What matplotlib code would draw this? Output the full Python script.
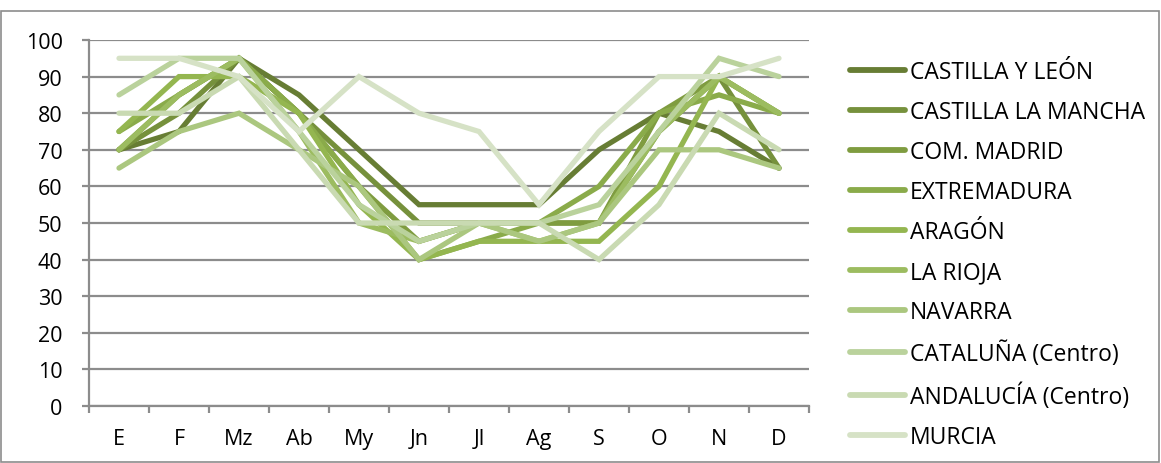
import matplotlib.pyplot as plt
from matplotlib.patches import Rectangle

meses = ['E', 'F', 'Mz', 'Ab', 'My', 'Jn', 'Jl', 'Ag', 'S', 'O', 'N', 'D']

regiones = ['CASTILLA Y LEÓN', 'CASTILLA LA MANCHA', 'COM. MADRID', 'EXTREMADURA',
            'ARAGÓN', 'LA RIOJA', 'NAVARRA', 'CATALUÑA (Centro)',
            'ANDALUCÍA (Centro)', 'MURCIA']

castilla_leon = [70, 75, 95, 85, 70, 55, 55, 55, 70, 80, 75, 65]
castilla_mancha = [70, 80, 95, 80, 65, 50, 50, 50, 50, 75, 90, 65]
madrid = [70, 85, 95, 80, 60, 45, 50, 50, 50, 80, 90, 80]
extremadura = [75, 85, 95, 80, 60, 40, 45, 50, 60, 80, 85, 80]
aragon = [75, 90, 90, 80, 55, 40, 45, 45, 45, 60, 90, 80]
rioja = [70, 85, 95, 75, 50, 45, 50, 45, 50, 75, 90, 80]
navarra = [65, 75, 80, 70, 60, 40, 50, 45, 50, 70, 70, 65]
cataluna = [85, 95, 95, 75, 55, 45, 50, 50, 55, 75, 95, 90]
andalucia = [80, 80, 90, 70, 50, 50, 50, 50, 40, 55, 80, 70]
murcia = [95, 95, 90, 75, 90, 80, 75, 55, 75, 90, 90, 95]

series = [castilla_leon, castilla_mancha, madrid, extremadura, aragon,
          rioja, navarra, cataluna, andalucia, murcia]

colores = ['#677d34', '#76913c', '#7f9c40', '#8aab4a', '#94b650',
           '#9cbc60', '#abc77f', '#bad29c', '#c9dab2', '#d6e2c6']

plt.rcParams['font.family'] = ['Open Sans', 'DejaVu Sans']

fig = plt.figure(figsize=(11.61, 4.64), dpi=100)
ax = fig.add_axes([89 / 1161, 57 / 464, 720 / 1161, 366 / 464])

x = list(range(len(meses)))
for nombre, valores, color in zip(regiones, series, colores):
    ax.plot(x, valores, color=color, lw=3.8, label=nombre,
            solid_capstyle='round', solid_joinstyle='miter')

ax.set_xlim(-0.5, 11.5)
ax.set_ylim(0, 100)
ax.set_yticks(range(0, 101, 10))
ax.set_xticks(x)
ax.set_xticklabels(meses)
ax.set_xticks([i - 0.5 for i in range(13)], minor=True)

ax.grid(axis='y', color='#8c8c8c', lw=1.6)
ax.set_axisbelow(True)
for s in ['top', 'right']:
    ax.spines[s].set_visible(False)
ax.spines['left'].set_color('#8c8c8c')
ax.spines['left'].set_linewidth(1.6)
ax.spines['bottom'].set_color('#8c8c8c')
ax.spines['bottom'].set_linewidth(1.6)

ax.tick_params(axis='y', length=5, width=1.6, color='#8c8c8c',
               labelsize=15.5, pad=14)
ax.tick_params(axis='x', which='major', length=0, labelsize=15.5, pad=16)
ax.tick_params(axis='x', which='minor', length=5, width=1.6, color='#8c8c8c')

leg = ax.legend(loc='upper left', bbox_to_anchor=(841 / 1161, 1 - 52 / 464),
                bbox_transform=fig.transFigure, frameon=False, fontsize=16.5,
                handlelength=2.4, handletextpad=0.2, labelspacing=0.70,
                borderaxespad=0)
for h in leg.get_lines():
    h.set_linewidth(4.2)

fig.patches.append(Rectangle((1 / 1161, 1 / 464), 1158 / 1161, 451 / 464,
                             transform=fig.transFigure, fill=False,
                             edgecolor='#8c8c8c', lw=1.2))

fig.savefig('out.png', dpi=100)
